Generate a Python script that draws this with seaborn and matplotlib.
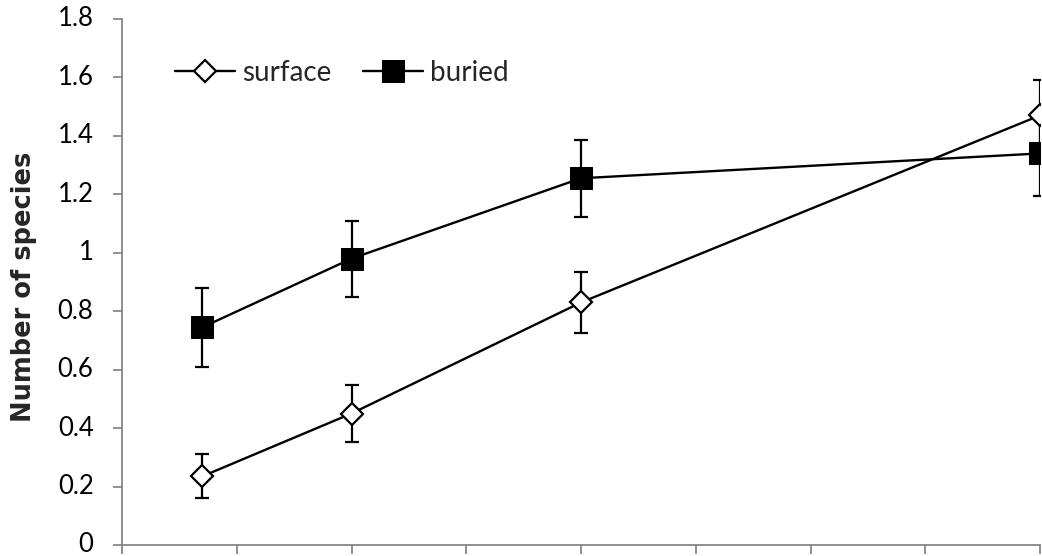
import numpy as np
import pandas as pd
import matplotlib
matplotlib.use("Agg")
import matplotlib.pyplot as plt
import seaborn as sns

# ─── Data ─────────────────────────────────────────────────────────────────────
x_vals = [0.7, 2, 4, 8]
surface_mean = [0.235, 0.45, 0.83, 1.47]
surface_err = [0.075, 0.098, 0.104, 0.122]
buried_mean = [0.745, 0.98, 1.255, 1.34]
buried_err = [0.136, 0.13, 0.132, 0.147]
y_ticks = [0, 0.2, 0.4, 0.6, 0.8, 1, 1.2, 1.4, 1.6, 1.8]
y_tick_labels = ["0", "0.2", "0.4", "0.6", "0.8", "1", "1.2", "1.4", "1.6", "1.8"]

df = pd.DataFrame({
    "x": x_vals * 2,
    "species": surface_mean + buried_mean,
    "err": surface_err + buried_err,
    "group": ["surface"] * 4 + ["buried"] * 4,
})

sns.set_style("ticks")
plt.rcParams["font.family"] = ["Lato", "DejaVu Sans"]

fig = plt.figure(figsize=(10.42, 5.56), dpi=100)
ax = fig.add_axes([122 / 1042, 1 - 545 / 556, (1040 - 122) / 1042, (545 - 19) / 556])

sns.lineplot(
    data=df, x="x", y="species", style="group", hue="group",
    palette={"surface": "black", "buried": "black"},
    markers={"surface": "D", "buried": "s"},
    dashes=False, linewidth=1.7, ax=ax, legend=False, zorder=3,
)

# marker styling per series
surf_line, bur_line = ax.lines[0], ax.lines[1]
surf_line.set_markersize(11)
surf_line.set_markerfacecolor("white")
surf_line.set_markeredgecolor("black")
surf_line.set_markeredgewidth(1.6)
bur_line.set_markersize(16)
bur_line.set_markerfacecolor("black")
bur_line.set_markeredgecolor("black")

for g, sub in df.groupby("group", sort=False):
    ax.errorbar(sub["x"], sub["species"], yerr=sub["err"], fmt="none",
                ecolor="black", elinewidth=1.6, capsize=4.7, capthick=1.6, zorder=2)

ax.set_xlim(0, 8)
ax.set_ylim(0, 1.8)
ax.set_xticks(range(0, 9))
ax.set_xticklabels([])
ax.set_yticks(y_ticks)
ax.set_yticklabels(y_tick_labels, fontsize=18.5, va="center")
ax.set_xlabel("")
ax.set_ylabel("Number of species", fontsize=18.5, fontweight="bold",
              family=["DejaVu Sans"])
ax.yaxis.set_label_coords(-0.093, 0.49)

for side in ["top", "right"]:
    ax.spines[side].set_visible(False)
for side in ["left", "bottom"]:
    ax.spines[side].set_color("#868686")
    ax.spines[side].set_linewidth(1.3)
ax.tick_params(axis="both", color="#868686", width=1.3, length=6.5, direction="out")
ax.tick_params(axis="y", labelcolor="black", pad=14)

fig.legend([surf_line, bur_line], ["surface", "buried"], ncol=2, frameon=False,
           loc="center left", bbox_to_anchor=(175 / 1042, 1 - 73 / 556),
           fontsize=20, handlelength=2.15, handletextpad=0.25, columnspacing=1.15,
           borderpad=0, borderaxespad=0)

plt.savefig("out.png", dpi=100)
plt.close()
